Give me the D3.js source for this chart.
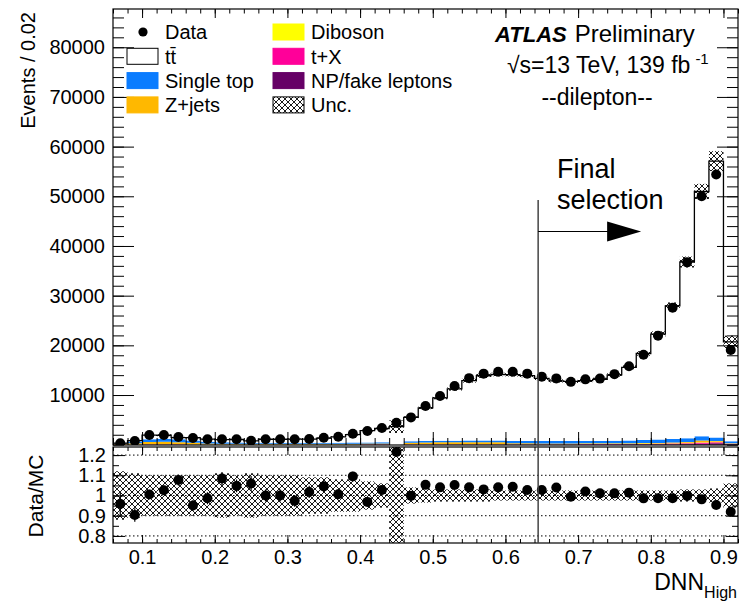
<!DOCTYPE html>
<html>
<head>
<meta charset="utf-8">
<script src="https://cdn.jsdelivr.net/npm/d3@7"></script>
<style>
  body { margin: 0; background: #fff; }
  svg { display: block; font-family: "Liberation Sans", Arial, Helvetica, sans-serif; }
</style>
</head>
<body>
<svg width="739" height="603"></svg>
<script>
// bin centres of the DNN_High histogram (bin width 0.02)
const binWidth = 0.02;
const binCentres = [0.07, 0.09, 0.11, 0.13, 0.15, 0.17, 0.19, 0.21, 0.23, 0.25,
  0.27, 0.29, 0.31, 0.33, 0.35, 0.37, 0.39, 0.41, 0.43, 0.45,
  0.47, 0.49, 0.51, 0.53, 0.55, 0.57, 0.59, 0.61, 0.63, 0.65,
  0.67, 0.69, 0.71, 0.73, 0.75, 0.77, 0.79, 0.81, 0.83, 0.85,
  0.87, 0.89, 0.91];

const data = [300, 750, 1950, 1950, 1550, 1350, 1100, 1100, 1100, 800,
  1100, 1100, 1100, 1150, 1400, 1600, 2200, 2750, 3350, 4400,
  5500, 7800, 9800, 11800, 13400, 14300, 14700, 14700, 14300, 13700,
  13350, 12650, 13150, 13300, 14200, 15800, 18100, 21950, 27550, 36700,
  50000, 54400, 19050];

const ttbar = [88, 200, 830, 690, 365, 575, 525, 525, 610, 355,
  720, 730, 760, 760, 945, 1175, 1580, 2380, 2785, 3620,
  4840, 6670, 8630, 10400, 12030, 13030, 13270, 13360, 13190, 12610,
  12095, 11985, 12140, 12390, 13245, 14725, 17430, 21200, 26770, 35450,
  49280, 55610, 20030];

const singleTop = [100, 320, 560, 620, 560, 450, 330, 280, 250, 220,
  210, 200, 200, 200, 210, 220, 230, 240, 250, 0,
  280, 300, 320, 330, 340, 340, 350, 450, 460, 470,
  480, 480, 490, 500, 520, 550, 600, 700, 750, 800,
  850, 750, 400];

const zjets = [80, 220, 420, 460, 400, 300, 180, 140, 120, 110,
  100, 100, 100, 100, 100, 110, 110, 120, 120, 0,
  250, 300, 320, 340, 350, 350, 350, 120, 110, 100,
  100, 100, 100, 100, 100, 110, 110, 120, 130, 150,
  300, 150, 60];

const diboson = [15, 30, 40, 40, 35, 30, 25, 20, 20, 20,
  20, 20, 20, 20, 25, 25, 25, 30, 30, 0,
  40, 40, 45, 45, 50, 50, 50, 50, 50, 50,
  50, 50, 50, 50, 55, 55, 60, 60, 70, 80,
  90, 90, 40];

const tX = [10, 20, 30, 30, 30, 25, 20, 20, 20, 20,
  20, 20, 20, 20, 25, 25, 25, 30, 30, 0,
  40, 40, 45, 45, 50, 50, 50, 50, 50, 50,
  55, 55, 60, 60, 65, 70, 80, 90, 110, 140,
  250, 180, 60];

const fakes = [20, 40, 60, 60, 50, 40, 35, 30, 30, 30,
  30, 30, 30, 30, 35, 35, 40, 40, 45, 0,
  60, 60, 60, 60, 60, 60, 60, 60, 60, 60,
  60, 60, 60, 60, 65, 70, 80, 90, 110, 150,
  200, 300, 120];

// relative total uncertainty on the prediction
const relUnc = [0.12, 0.11, 0.10, 0.10, 0.10, 0.10, 0.10, 0.11, 0.10, 0.11,
  0.10, 0.10, 0.10, 0.09, 0.09, 0.08, 0.08, 0.07, 0.06, 0.35,
  0.04, 0.035, 0.03, 0.03, 0.03, 0.03, 0.025, 0.025, 0.025, 0.025,
  0.025, 0.025, 0.025, 0.025, 0.025, 0.025, 0.025, 0.025, 0.025, 0.03,
  0.03, 0.035, 0.06];

const yTickLabels = [10000, 20000, 30000, 40000, 50000, 60000, 70000, 80000];
const ratioTickLabels = [0.8, 0.9, 1, 1.1, 1.2];
const xTickLabels = [0.1, 0.2, 0.3, 0.4, 0.5, 0.6, 0.7, 0.8, 0.9];
const cutValue = 0.645;

const keys = ["fakes", "tX", "diboson", "zjets", "singleTop", "ttbar"];
const colors = {
  fakes: "#660066", tX: "#ff0099", diboson: "#ffff00",
  zjets: "#ffb800", singleTop: "#0a7cff", ttbar: "#ffffff"
};

const svg = d3.select("svg");
const left = 113, right = 738;

const x = d3.scaleLinear().domain([0.06, 0.92]).range([left, right]);
const y = d3.scaleLinear().domain([0, 87700]).range([444.7, 9]);
const yr = d3.scaleLinear().domain([0.765, 1.24]).range([543, 447]);

const table = binCentres.map((c, i) => ({
  c: c, fakes: fakes[i], tX: tX[i], diboson: diboson[i],
  zjets: zjets[i], singleTop: singleTop[i], ttbar: ttbar[i]
}));
const layers = d3.stack().keys(keys)(table);
const mc = layers[layers.length - 1].map(d => d[1]);

// defs: clips + hatch
const defs = svg.append("defs");
defs.append("clipPath").attr("id", "clipMain")
  .append("rect").attr("x", left).attr("y", 9).attr("width", right - left).attr("height", 436);
defs.append("clipPath").attr("id", "clipRatio")
  .append("rect").attr("x", left).attr("y", 447).attr("width", right - left).attr("height", 96);
const pat = defs.append("pattern").attr("id", "hatch")
  .attr("patternUnits", "userSpaceOnUse").attr("width", 6).attr("height", 6);
pat.append("path")
  .attr("d", "M-1,1 l2,-2 M0,6 l6,-6 M5,7 l2,-2 M-1,5 l2,2 M0,0 l6,6 M5,-1 l2,2")
  .attr("stroke", "#000").attr("stroke-width", 0.9).attr("fill", "none");

// ---------- main panel ----------
const gMain = svg.append("g").attr("clip-path", "url(#clipMain)");

function stepPoints(layer) {
  return layer.flatMap(d => [
    { x: d.data.c - binWidth / 2, lo: d[0], hi: d[1] },
    { x: d.data.c + binWidth / 2, lo: d[0], hi: d[1] }
  ]);
}
const area = d3.area().x(p => x(p.x)).y0(p => y(p.lo)).y1(p => y(p.hi));
const topLine = d3.line().x(p => x(p.x)).y(p => y(p.hi));

layers.forEach(layer => {
  gMain.append("path")
    .attr("d", area(stepPoints(layer)))
    .attr("fill", colors[layer.key]);
});

gMain.append("path")
  .attr("d", topLine(stepPoints(layers[layers.length - 1])))
  .attr("fill", "none")
  .attr("stroke", "#000")
  .attr("stroke-width", 1.3);

gMain.selectAll("rect.unc")
  .data(binCentres)
  .join("rect")
  .attr("class", "unc")
  .attr("x", c => x(c - binWidth / 2))
  .attr("width", x(binWidth) - x(0))
  .attr("y", (c, i) => y(mc[i] * (1 + relUnc[i])))
  .attr("height", (c, i) => y(mc[i] * (1 - relUnc[i])) - y(mc[i] * (1 + relUnc[i])))
  .attr("fill", "url(#hatch)");

gMain.selectAll("line.err")
  .data(binCentres)
  .join("line")
  .attr("x1", c => x(c)).attr("x2", c => x(c))
  .attr("y1", (c, i) => y(data[i] + Math.sqrt(data[i])))
  .attr("y2", (c, i) => y(data[i] - Math.sqrt(data[i])))
  .attr("stroke", "#000").attr("stroke-width", 1.2);

gMain.selectAll("circle.pt")
  .data(binCentres)
  .join("circle")
  .attr("cx", c => x(c))
  .attr("cy", (c, i) => y(data[i]))
  .attr("r", 5)
  .attr("fill", "#000");

// ---------- ratio panel ----------
const gRatio = svg.append("g").attr("clip-path", "url(#clipRatio)");

gRatio.selectAll("line.grid")
  .data(ratioTickLabels)
  .join("line")
  .attr("x1", left).attr("x2", right)
  .attr("y1", d => yr(d)).attr("y2", d => yr(d))
  .attr("stroke", "#000").attr("stroke-width", 1)
  .attr("stroke-dasharray", "1.5,2.5");

gRatio.selectAll("rect.unc")
  .data(binCentres)
  .join("rect")
  .attr("x", c => x(c - binWidth / 2))
  .attr("width", x(binWidth) - x(0))
  .attr("y", (c, i) => yr(1 + relUnc[i]))
  .attr("height", (c, i) => yr(1 - relUnc[i]) - yr(1 + relUnc[i]))
  .attr("fill", "url(#hatch)");

const ratio = data.map((d, i) => d / mc[i]);
const ratioErr = data.map((d, i) => Math.sqrt(d) / mc[i]);

gRatio.selectAll("line.err")
  .data(binCentres)
  .join("line")
  .attr("x1", c => x(c)).attr("x2", c => x(c))
  .attr("y1", (c, i) => yr(ratio[i] + ratioErr[i]))
  .attr("y2", (c, i) => yr(ratio[i] - ratioErr[i]))
  .attr("stroke", "#000").attr("stroke-width", 1.2);

gRatio.selectAll("circle.pt")
  .data(binCentres)
  .join("circle")
  .attr("cx", c => x(c))
  .attr("cy", (c, i) => yr(ratio[i]))
  .attr("r", 5)
  .attr("fill", "#000");

// ---------- frames and ticks ----------
function ticks(axis, transform) {
  const g = svg.append("g").attr("transform", transform).call(axis);
  g.select(".domain").remove();
  g.selectAll("line").attr("stroke", "#000").attr("stroke-width", 1);
  return g;
}
const yMinor = d3.range(0, 87700, 2000);
const xMinor = d3.range(0.06, 0.9201, 0.02);
const rMinor = d3.range(0.8, 1.2401, 0.05);

// main panel
ticks(d3.axisRight(y).tickValues(yTickLabels).tickSize(21).tickFormat(""), `translate(${left},0)`);
ticks(d3.axisRight(y).tickValues(yMinor).tickSize(11).tickFormat(""), `translate(${left},0)`);
ticks(d3.axisLeft(y).tickValues(yTickLabels).tickSize(21).tickFormat(""), `translate(${right},0)`);
ticks(d3.axisLeft(y).tickValues(yMinor).tickSize(11).tickFormat(""), `translate(${right},0)`);
ticks(d3.axisBottom(x).tickValues(xTickLabels).tickSize(9).tickFormat(""), "translate(0,9)");
ticks(d3.axisBottom(x).tickValues(xMinor).tickSize(4.5).tickFormat(""), "translate(0,9)");
ticks(d3.axisTop(x).tickValues(xTickLabels).tickSize(13).tickFormat(""), "translate(0,445)");
ticks(d3.axisTop(x).tickValues(xMinor).tickSize(7).tickFormat(""), "translate(0,445)");

// ratio panel
ticks(d3.axisRight(yr).tickValues(ratioTickLabels).tickSize(12).tickFormat(""), `translate(${left},0)`);
ticks(d3.axisRight(yr).tickValues(rMinor).tickSize(6).tickFormat(""), `translate(${left},0)`);
ticks(d3.axisLeft(yr).tickValues(ratioTickLabels).tickSize(12).tickFormat(""), `translate(${right},0)`);
ticks(d3.axisLeft(yr).tickValues(rMinor).tickSize(6).tickFormat(""), `translate(${right},0)`);
ticks(d3.axisTop(x).tickValues(xTickLabels).tickSize(8).tickFormat(""), "translate(0,543)");
ticks(d3.axisTop(x).tickValues(xMinor).tickSize(4).tickFormat(""), "translate(0,543)");
ticks(d3.axisBottom(x).tickValues(xTickLabels).tickSize(8).tickFormat(""), "translate(0,447)");
ticks(d3.axisBottom(x).tickValues(xMinor).tickSize(4).tickFormat(""), "translate(0,447)");

svg.append("rect").attr("x", left).attr("y", 9).attr("width", right - left).attr("height", 436)
  .attr("fill", "none").attr("stroke", "#000").attr("stroke-width", 1.2);
svg.append("rect").attr("x", left).attr("y", 447).attr("width", right - left).attr("height", 96)
  .attr("fill", "none").attr("stroke", "#000").attr("stroke-width", 1.2);

// tick labels
function labels(axis, transform, size) {
  const g = svg.append("g").attr("transform", transform).call(axis);
  g.select(".domain").remove();
  g.selectAll("text").attr("font-size", size).attr("fill", "#000")
    .attr("font-family", "'Liberation Sans', Arial, sans-serif");
}
labels(d3.axisLeft(y).tickValues(yTickLabels).tickSize(0).tickPadding(8).tickFormat(d3.format("d")),
  `translate(${left},0)`, 20);
labels(d3.axisLeft(yr).tickValues(ratioTickLabels).tickSize(0).tickPadding(7)
  .tickFormat(d => d === 1 ? "1" : d.toFixed(1)), `translate(${left},0)`, 20);
labels(d3.axisBottom(x).tickValues(xTickLabels).tickSize(0).tickPadding(7).tickFormat(d3.format(".1f")),
  "translate(0,543)", 20);

// axis titles
svg.append("text")
  .attr("transform", "translate(35,12) rotate(-90)")
  .attr("text-anchor", "end").attr("font-size", 20)
  .text("Events / 0.02");
svg.append("text")
  .attr("transform", "translate(43,496) rotate(-90)")
  .attr("text-anchor", "middle").attr("font-size", 21)
  .text("Data/MC");
const xt = svg.append("text").attr("x", 737).attr("y", 590).attr("text-anchor", "end").attr("font-size", 23);
xt.append("tspan").text("DNN");
xt.append("tspan").attr("font-size", 16).attr("dy", 8).text("High");

// final selection marker
const xc = x(cutValue);
svg.append("line").attr("x1", xc).attr("x2", xc).attr("y1", 200).attr("y2", 543)
  .attr("stroke", "#444").attr("stroke-width", 1.5);
svg.append("line").attr("x1", xc).attr("x2", xc + 70).attr("y1", 231.5).attr("y2", 231.5)
  .attr("stroke", "#000").attr("stroke-width", 1.2);
svg.append("path")
  .attr("d", `M${xc + 69},221.5 L${xc + 103},231.5 L${xc + 69},241.5 Z`)
  .attr("fill", "#000");
svg.append("text").attr("x", 557).attr("y", 178).attr("font-size", 27).text("Final");
svg.append("text").attr("x", 557).attr("y", 209).attr("font-size", 27).text("selection");

// ATLAS label
const atl = svg.append("text").attr("x", 495).attr("y", 42).attr("font-size", 22);
atl.append("tspan").attr("font-weight", "bold").attr("font-style", "italic").text("ATLAS");
atl.append("tspan").attr("dx", 8).attr("font-size", 24).text("Preliminary");
const lum = svg.append("text").attr("x", 507).attr("y", 73).attr("font-size", 23);
lum.append("tspan").text("\u221As=13 TeV, 139 fb");
lum.append("tspan").attr("font-size", 15).attr("dx", 5).attr("dy", -9).text("-1");
svg.append("text").attr("x", 597).attr("y", 105).attr("text-anchor", "middle")
  .attr("font-size", 23).text("--dilepton--");

// legend
const legendRows = [
  { col: 0, row: 0, label: "Data", type: "marker" },
  { col: 0, row: 1, label: "tt\u0304", key: "ttbar" },
  { col: 0, row: 2, label: "Single top", key: "singleTop" },
  { col: 0, row: 3, label: "Z+jets", key: "zjets" },
  { col: 1, row: 0, label: "Diboson", key: "diboson" },
  { col: 1, row: 1, label: "t+X", key: "tX" },
  { col: 1, row: 2, label: "NP/fake leptons", key: "fakes" },
  { col: 1, row: 3, label: "Unc.", type: "unc" }
];
const lg = svg.append("g");
legendRows.forEach(r => {
  const bx = r.col === 0 ? 127 : 273;
  const cy = 32 + r.row * 24.3;
  if (r.type === "marker") {
    lg.append("circle").attr("cx", bx + 16).attr("cy", cy).attr("r", 4.6).attr("fill", "#000");
  } else if (r.type === "unc") {
    lg.append("rect").attr("x", bx).attr("y", cy - 8).attr("width", 31).attr("height", 16)
      .attr("fill", "url(#hatch)").attr("stroke", "#000").attr("stroke-width", 1);
  } else {
    lg.append("rect").attr("x", bx).attr("y", cy - 8).attr("width", 31).attr("height", 16)
      .attr("fill", colors[r.key])
      .attr("stroke", r.key === "ttbar" ? "#000" : colors[r.key]).attr("stroke-width", 1);
  }
  lg.append("text").attr("x", bx + 38).attr("y", cy).attr("dy", "0.36em")
    .attr("font-size", 20).text(r.label);
});
</script>
</body>
</html>
